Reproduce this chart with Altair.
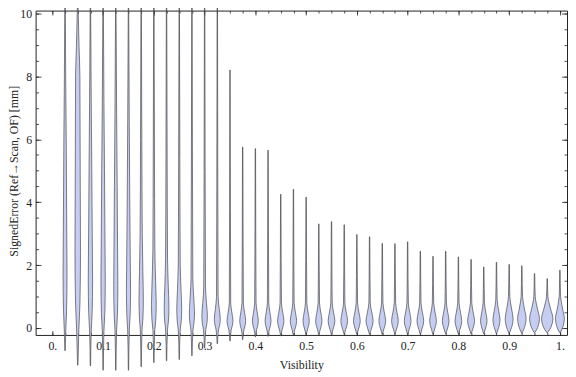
import altair as alt
import pandas as pd

# ---- data ----
positions = [0.025, 0.05, 0.075, 0.1, 0.125, 0.15, 0.175, 0.2, 0.225, 0.25,
             0.275, 0.3, 0.325, 0.35, 0.375, 0.4, 0.425, 0.45, 0.475, 0.5,
             0.525, 0.55, 0.575, 0.6, 0.625, 0.65, 0.675, 0.7, 0.725, 0.75,
             0.775, 0.8, 0.825, 0.85, 0.875, 0.9, 0.925, 0.95, 0.975, 1.0]
tops = [10.4, 10.4, 10.4, 10.4, 10.4, 10.4, 10.4, 10.4, 10.4, 10.4,
        10.4, 10.4, 10.4, 8.2, 5.75, 5.7, 5.65, 4.25, 4.41, 4.16,
        3.31, 3.38, 3.28, 2.97, 2.9, 2.69, 2.68, 2.74, 2.44, 2.28,
        2.44, 2.26, 2.18, 1.94, 2.09, 2.02, 1.98, 1.73, 1.57, 1.84]
bottoms = [-0.72, -1.18, -1.2, -1.34, -1.34, -1.34, -1.23, -1.1, -1.04, -1.0,
           -0.88, -0.63, -0.5, -0.41, -0.37, -0.28, -0.26, -0.25, -0.22, -0.2,
           -0.2, -0.2, -0.2, -0.2, -0.2, -0.2, -0.2, -0.2, -0.2, -0.2,
           -0.18, -0.18, -0.18, -0.18, -0.18, -0.16, -0.16, -0.15, -0.15, -0.15]
# widest half-width of each violin (in pixels) and where the body narrows
bulb_hw = [2.0, 2.8, 2.2, 2.2, 2.1, 2.1, 2.2, 2.4, 2.4, 2.5,
           2.6, 2.8, 3.0, 3.0, 3.0, 3.0, 3.0, 3.2, 3.2, 3.2,
           3.2, 3.4, 3.4, 3.4, 3.6, 3.4, 3.4, 3.4, 3.4, 3.4,
           3.4, 3.4, 3.5, 3.3, 3.6, 4.0, 4.3, 5.0, 5.8, 4.5]
bulb_top = [6.0, 8.0, 5.0, 5.0, 4.5, 4.0, 3.0, 2.5, 2.2, 2.0,
            1.6, 1.3, 1.0, 0.8, 0.8, 0.8, 0.8, 0.8, 0.8, 0.8,
            0.8, 0.8, 0.8, 0.8, 0.8, 0.8, 0.8, 0.8, 0.8, 0.8,
            0.8, 0.8, 0.8, 0.8, 0.9, 1.0, 1.0, 1.0, 1.0, 1.0]
body_hw = [1.2, 2.2, 1.4, 1.4, 1.4, 1.3, 1.1, 1.0, 1.0, 1.0,
           0.9, 0.9, 0.8, 0.7, 0.7, 0.7, 0.7, 0.7, 0.7, 0.7,
           0.7, 0.7, 0.7, 0.7, 0.7, 0.7, 0.7, 0.7, 0.7, 0.7,
           0.7, 0.7, 0.7, 0.7, 0.7, 0.7, 0.7, 0.7, 0.7, 0.7]

x_major = [0, 0.1, 0.2, 0.3, 0.4, 0.5, 0.6, 0.7, 0.8, 0.9, 1.0]
x_minor = [i * 0.025 for i in range(41)]
y_major = [0, 2, 4, 6, 8, 10]
y_minor = [i * 0.5 for i in range(21)]

X_DOMAIN = [-0.033, 1.014]
Y_DOMAIN = [-0.22, 10.09]
W, H = 539, 329
px_per_x = W / (X_DOMAIN[1] - X_DOMAIN[0])

rows = []
for i, (p, t, b, B, u, Wb) in enumerate(zip(positions, tops, bottoms, bulb_hw, bulb_top, body_hw)):
    knots = [(b, 0.2), (-0.06, 0.4 * B), (0.1 * u, 0.8 * B), (0.3 * u, B),
             (0.6 * u, 0.55 * B + 0.45 * Wb), (u, Wb), (u + 0.4 * (t - u), 0.6 * Wb), (t, 0.2)]
    for k, (v, hw) in enumerate(knots):
        rows.append({"vid": i, "k": k, "v": v,
                     "left": p - hw / px_per_x, "right": p + hw / px_per_x})
df = pd.DataFrame(rows)

FONT = "Liberation Serif"
INK = "#222222"
xs = alt.Scale(domain=X_DOMAIN, nice=False, zero=False)
ys = alt.Scale(domain=Y_DOMAIN, nice=False, zero=False)

label_expr = "datum.value == 0 ? '0.' : datum.value == 1 ? '1.' : format(datum.value, '.1f')"

violins = alt.Chart(df).mark_area(
    orient="horizontal", interpolate="monotone",
    fill="#c6cdf3", fillOpacity=1, stroke="#3a3a3a", strokeWidth=0.8, strokeOpacity=0.8
).encode(
    y=alt.Y("v:Q", scale=ys, axis=alt.Axis(
        orient="left", values=y_major, ticks=False, tickSize=0, domain=False, grid=False,
        labelFont=FONT, labelFontSize=12, labelColor=INK, labelPadding=4,
        title="SignedError (Ref→Scan, OF) [mm]", titleFont=FONT, titleFontSize=12,
        titleFontWeight="normal", titleColor=INK, titleX=-18, titleY=H / 2 - 2,
        titleBaseline="alphabetic", titleAngle=270)),
    x=alt.X("left:Q", scale=xs, axis=alt.Axis(
        orient="bottom", values=x_major, ticks=False, tickSize=0, domain=False, grid=False,
        labelExpr=label_expr, labelFont=FONT, labelFontSize=12, labelColor=INK,
        labelBaseline="alphabetic", labelPadding=15,
        title="Visibility", titleFont=FONT, titleFontSize=12, titleFontWeight="normal",
        titleColor=INK, titleBaseline="alphabetic", titleY=34, titleX=W / 2)),
    x2="right:Q",
    detail="vid:N",
)


def tick_layer(x_orient, x_vals, x_size, y_orient, y_vals, y_size, x_off, y_off):
    return alt.Chart(df).mark_point(opacity=0).encode(
        x=alt.X("left:Q", scale=xs, axis=alt.Axis(
            orient=x_orient, offset=x_off, values=x_vals, tickSize=x_size, tickColor=INK,
            tickWidth=0.8, labels=False, domain=False, grid=False, title=None)),
        y=alt.Y("v:Q", scale=ys, axis=alt.Axis(
            orient=y_orient, offset=y_off, values=y_vals, tickSize=y_size, tickColor=INK,
            tickWidth=0.8, labels=False, domain=False, grid=False, title=None)),
    )


layers = [
    tick_layer("top", x_major, 4.5, "right", y_major, 5.5, -H, -W),      # bottom/left major inward
    tick_layer("top", x_minor, 2.5, "right", y_minor, 3, -H, -W),        # bottom/left minor inward
    tick_layer("bottom", x_major, 4.5, "left", y_major, 5.5, -H, -W),    # top/right major inward
    tick_layer("bottom", x_minor, 2.5, "left", y_minor, 3, -H, -W),      # top/right minor inward
    violins,
]

chart = alt.layer(*layers).resolve_axis(
    x="independent", y="independent"
).properties(
    width=W, height=H,
    autosize=alt.AutoSizeParams(type="none"),
    padding={"left": 28, "top": 0, "right": 1, "bottom": 38},
    background="white",
).configure_view(stroke=INK, strokeWidth=1)

chart.save("out.html", embed_options={"renderer": "svg", "actions": False})
